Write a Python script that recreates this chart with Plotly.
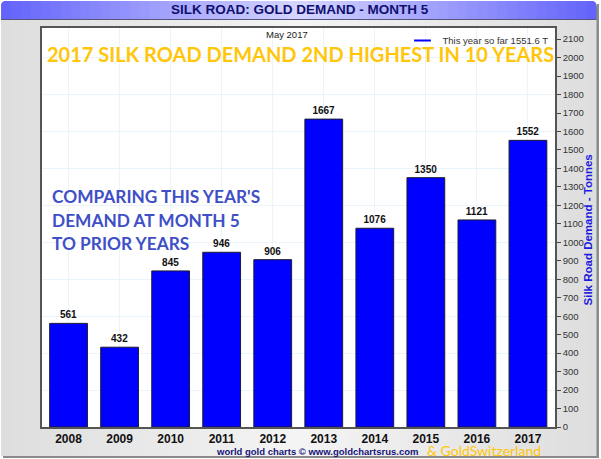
import plotly.graph_objects as go

years = ["2008", "2009", "2010", "2011", "2012", "2013", "2014", "2015", "2016", "2017"]
demand = [561, 432, 845, 946, 906, 1667, 1076, 1350, 1121, 1552]
legend_label = "This year so far 1551.6 T"

W, H = 601, 459
L, R, T, B = 42, 555.5, 28, 427


def px(x):
    return (x - L) / (R - L)


def py(y):
    return (B - y) / (B - T)


def rect(x0, y0, x1, y1, color, layer="below", line=None):
    return dict(type="rect", xref="paper", yref="paper", x0=px(x0), x1=px(x1), y0=py(y0), y1=py(y1),
                fillcolor=color, layer=layer, line=dict(width=0) if line is None else line)


def corner(cx, cy, ex, ey):
    # white wedge that rounds a panel corner: (cx, cy) is the corner, (ex, ey) the arc's far point
    d = (f"M {px(cx)} {py(cy)} L {px(ex)} {py(cy)} "
         f"Q {px(cx)} {py(cy)} {px(cx)} {py(ey)} Z")
    return dict(type="path", xref="paper", yref="paper", path=d, fillcolor="white",
                layer="below", line=dict(width=0))


def mix(a, b, t):
    return "rgb(%d,%d,%d)" % tuple(round(a[i] + (b[i] - a[i]) * t) for i in range(3))


shapes = [rect(0, 0, W, H, "white")]
shapes.append(rect(3, 4, 599.5, 458, "#8a8a8a"))
STEPS = 60
for i in range(STEPS):
    x0 = 1 + i * 596 / STEPS
    x1 = min(597, x0 + 596 / STEPS + 1)
    t = i / (STEPS - 1)
    c = mix((222, 222, 222), (244, 244, 244), 1 - abs(t - 0.5) * 2)
    shapes.append(rect(x0, 19, x1, 456, c))
for i in range(STEPS):
    x0 = 1 + i * 596 / STEPS
    x1 = min(597, x0 + 596 / STEPS + 1)
    t = i / (STEPS - 1)
    c = mix((100, 100, 250), (214, 214, 255), 1 - abs(t - 0.5) * 2)
    shapes.append(rect(x0, 1, x1, 19.5, c))
shapes.append(rect(1, 19, 597, 20, "#55557f"))
shapes.append(corner(0.5, 0.5, 7, 7))
shapes.append(corner(597.5, 0.5, 591, 7))
shapes.append(rect(L, T, R, B, "white"))
shapes.append(rect(44, 70, 300, 81, "white", layer="between"))

fig = go.Figure()
fig.add_trace(go.Scatter(
    x=[None], y=[None], name=legend_label, mode="markers", yaxis="y",
    marker=dict(symbol="line-ew", size=11, color="#0000ff", line=dict(width=3, color="#0000ff")),
    showlegend=True,
))
fig.add_trace(go.Bar(
    x=years, y=demand, yaxis="y2", width=0.74, showlegend=False,
    marker=dict(color="#0000ff", line=dict(color="#1c1c30", width=1)),
    text=demand, textposition="outside", cliponaxis=False,
    textfont=dict(family="Liberation Sans", size=10, color="#111111", weight="bold"),
))

anns = [
    dict(text="SILK ROAD: GOLD DEMAND - MONTH 5", x=300, y=10, size=13.5, color="#10106e", bold=True, family="Liberation Sans", xanchor="center"),
    dict(text="May 2017", x=287, y=34, size=9.5, color="#222222", family="Liberation Sans", xanchor="center"),
    dict(text="2017 SILK ROAD DEMAND 2ND HIGHEST IN 10 YEARS", x=45, y=54, size=20, color="#ffc60a", bold=True, family="Lato", xanchor="left"),
    dict(text="COMPARING THIS YEAR'S", x=50, y=196, size=17.3, color="#3f4fc6", bold=True, family="Lato", xanchor="left"),
    dict(text="DEMAND AT MONTH 5", x=50, y=220, size=17.3, color="#3f4fc6", bold=True, family="Lato", xanchor="left"),
    dict(text="TO PRIOR YEARS", x=50, y=243, size=17.3, color="#3f4fc6", bold=True, family="Lato", xanchor="left"),
    dict(text="world gold charts © www.goldchartsrus.com", x=214, y=451, size=9.5, color="#14147a", bold=True, family="Liberation Sans", xanchor="left"),
    dict(text="& GoldSwitzerland", x=425, y=450, size=14, color="#ffc60a", family="Lato", xanchor="left"),
]
annotations = []
for a in anns:
    txt = f"<b>{a['text']}</b>" if a.get("bold") else a["text"]
    annotations.append(dict(
        text=txt, xref="paper", yref="paper", x=px(a["x"]), y=py(a["y"]),
        xanchor=a["xanchor"], yanchor="middle", showarrow=False,
        font=dict(family=a["family"], size=a["size"], color=a["color"]),
    ))
annotations.append(dict(
    text="<b>Silk Road Demand - Tonnes</b>", xref="paper", yref="paper", x=px(589), y=py(230),
    xanchor="center", yanchor="middle", showarrow=False, textangle=-90,
    font=dict(family="Liberation Sans", size=11.5, color="#1a1ae0"),
))

ymax = (B - T) / 18.47 * 100
fig.update_layout(
    width=W, height=H, autosize=False,
    margin=dict(l=L, r=W - R, t=T, b=H - B, pad=0, autoexpand=False),
    paper_bgcolor="white", plot_bgcolor="rgba(0,0,0,0)",
    shapes=shapes, annotations=annotations, bargap=0.26,
    font=dict(family="Liberation Sans", color="#222222"),
    xaxis=dict(
        type="category", range=[-0.52, 9.53], showgrid=True, gridcolor="#eaf4fb", gridwidth=1,
        ticks="", tickfont=dict(size=12, color="#111111", weight="bold"),
        showline=True, linecolor="#555555", linewidth=1.5, mirror=True, zeroline=False,
    ),
    yaxis=dict(
        range=[0, ymax], dtick=200, showgrid=True, gridcolor="#eaf4fb", gridwidth=1,
        showticklabels=False, ticks="", showline=True, linecolor="#555555", linewidth=1.5, zeroline=False,
    ),
    yaxis2=dict(
        range=[0, ymax], dtick=100, overlaying="y", side="right", showgrid=False, zeroline=False,
        ticks="outside", ticklen=4, tickcolor="#444444", tickfont=dict(size=9.5, color="#333333"),
        showline=True, linecolor="#555555", linewidth=1.5,
    ),
    legend=dict(
        x=px(554), y=py(26), xanchor="right", yanchor="top", bgcolor="rgba(0,0,0,0)",
        font=dict(size=9.5, color="#333333"), borderwidth=0, itemsizing="constant",
    ),
)
fig.write_html("out.html", post_script="document.body.style.margin='0';", config=dict(displayModeBar=False))
